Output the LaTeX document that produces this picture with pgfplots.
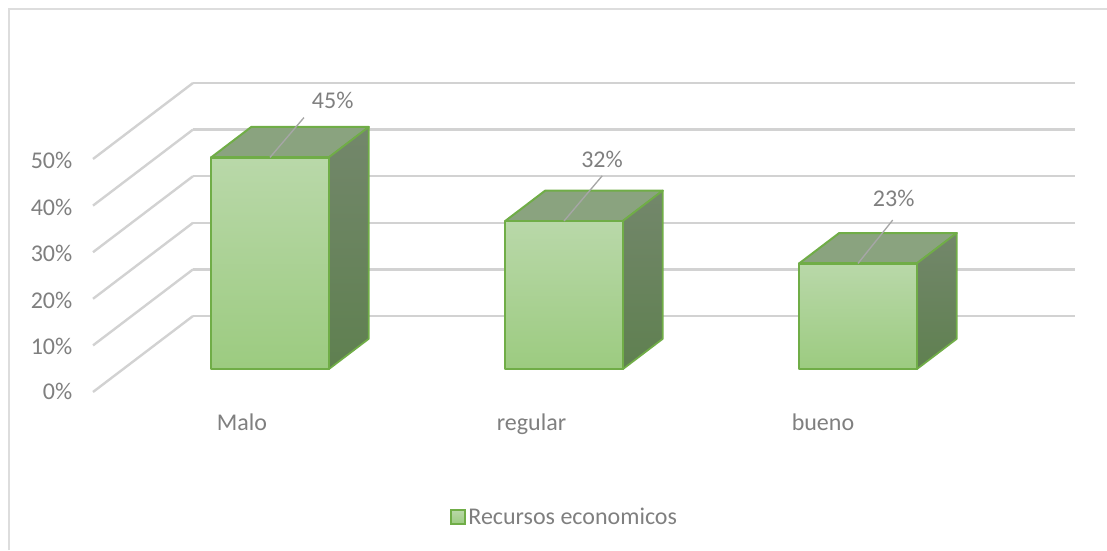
\documentclass[border=0pt]{standalone}
\usepackage{fontspec}
\setmainfont{Carlito}
\usepackage{pgfplots}
\pgfplotsset{compat=1.18}

\definecolor{textogris}{HTML}{7F7F7F}
\definecolor{rejilla}{HTML}{D2D2D2}
\definecolor{marco}{HTML}{DDDDDD}
\definecolor{borde}{HTML}{70AD47}
\definecolor{guia}{HTML}{A6A6A6}
\definecolor{frentearriba}{HTML}{B9D8A9}
\definecolor{frenteabajo}{HTML}{9CCB80}
\definecolor{tapa}{HTML}{8AA37F}
\definecolor{ladoarriba}{HTML}{73876B}
\definecolor{ladoabajo}{HTML}{5F8050}

% una barra 3D: x izq, x der, valor, desplazamiento etiqueta (pt), fin de la guia (x, z)
\newcommand{\barra}[7]{
  \addplot3[forget plot, draw=borde, line width=1.5pt, line join=round, fill=tapa]
    coordinates {(#1,0.3,#3) (#2,0.3,#3) (#2,0.7,#3) (#1,0.7,#3)} -- cycle;
  \addplot3[forget plot, draw=borde, line width=1.3pt, line join=round, shade,
            top color=ladoarriba, bottom color=ladoabajo]
    coordinates {(#2,0.3,0) (#2,0.7,0) (#2,0.7,#3) (#2,0.3,#3)} -- cycle;
  \addplot3[forget plot, draw=borde, line width=1.8pt, line join=round, shade,
            top color=frentearriba, bottom color=frenteabajo]
    coordinates {(#1,0.3,0) (#2,0.3,0) (#2,0.3,#3) (#1,0.3,#3)} -- cycle;
  \addplot3[forget plot, draw=guia, line width=1pt]
    coordinates {(#1+0.2,0.3,#3) (#6,0.3,#7)};
  \addplot3[forget plot, draw=none, point meta=z,
            nodes near coords={\pgfmathprintnumber[fixed,precision=0,assume math mode=true]{\pgfplotspointmeta}\%},
            every node near coord/.style={anchor=center, text=textogris, xshift=#4, yshift=#5,
              font=\fontsize{18}{20}\selectfont}]
    coordinates {(#1+0.2,0.3,#3)};
}

\begin{document}
\begin{tikzpicture}[x=0.75pt,y=0.75pt]
\useasboundingbox (0,0) rectangle (1107,550);
% marco del grafico, sin lados derecho e inferior
\draw[marco, line width=1.5pt] (8.5,0) -- (8.5,540.5) -- (1107,540.5);
\begin{axis}[
  at={(69.75pt,118.5pt)}, anchor=origin,
  x={(220.5pt,0pt)}, y={(75pt,57pt)}, z={(0pt,3.495pt)},
  xmin=0, xmax=3, ymin=0, ymax=1, zmin=0, zmax=50,
  clip=false,
  axis line style={draw=none},
  major tick length=0pt,
  xtick={0.512,1.5,2.488},
  xticklabels={Malo,regular,bueno},
  x tick label style={xshift=3.75pt, yshift=-12.7pt},
  ytick=\empty,
  ztick={0,10,20,30,40,50},
  zticklabel={\pgfmathprintnumber[assume math mode=true]{\tick}\%},
  z tick label style={xshift=-12pt, yshift=5.4pt},
  zmajorgrids,
  major grid style={rejilla, line width=1.8pt},
  tick label style={text=textogris},
  every tick label/.append style={font=\fontsize{18}{20}\selectfont},
  legend style={
    at={(axis description cs:0.4805,-0.4045)}, anchor=center,
    draw=none, fill=none, font=\fontsize{18}{20}\selectfont, text=textogris,
    legend cell align=left
  },
  legend image code/.code={
    \draw[#1] (0pt,-5.25pt) rectangle (10.5pt,5.25pt);
  },
]
\barra{0.3}{0.7}{45.45}{47pt}{42.75pt}{0.6156}{54}
\barra{1.3}{1.7}{31.8}{28.5pt}{46.5pt}{1.63}{41.5}
\barra{2.3}{2.7}{22.7}{26.75pt}{48.75pt}{2.618}{32}
\addlegendimage{draw=borde, line width=1.3pt, shade,
  top color=frentearriba, bottom color=frenteabajo}
\addlegendentry{Recursos economicos}
\end{axis}
\end{tikzpicture}
\end{document}
